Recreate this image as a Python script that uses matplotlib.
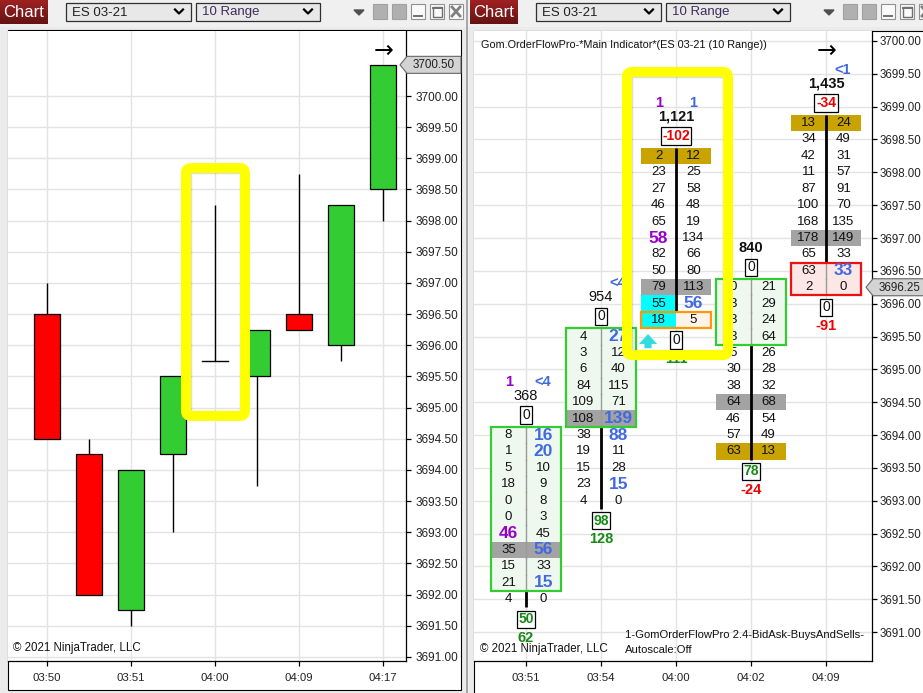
import matplotlib
matplotlib.use("Agg")
import matplotlib.pyplot as plt
from matplotlib.patches import Rectangle, FancyBboxPatch, Polygon
import numpy as np

plt.rcParams['font.family'] = ['Liberation Sans', 'DejaVu Sans']

# ---------------- data ----------------
symbol = "ES 03-21"
period = "10 Range"

candle_open  = [3696.50, 3694.25, 3691.75, 3694.25, 3695.75, 3695.50, 3696.50, 3696.00, 3698.50]
candle_high  = [3697.00, 3694.50, 3694.00, 3695.50, 3698.25, 3696.25, 3698.75, 3698.25, 3700.50]
candle_low   = [3694.50, 3692.00, 3691.50, 3693.00, 3695.75, 3693.75, 3696.25, 3695.75, 3698.00]
candle_close = [3694.50, 3692.00, 3694.00, 3695.50, 3695.75, 3696.25, 3696.25, 3698.25, 3700.50]
left_tick_labels = ["03:50", "03:51", "04:00", "04:09", "04:17"]

fp_times = ["03:51", "03:54", "04:00", "04:02", "04:09"]
fp_high = [3694.00, 3695.50, 3698.25, 3696.25, 3698.75]
fp_bid = [[8, 1, 5, 18, 0, 0, 46, 35, 15, 21, 4],
          [4, 3, 6, 84, 109, 108, 38, 19, 15, 23, 4],
          [2, 23, 27, 46, 65, 58, 82, 50, 79, 55, 18],
          [0, 3, 3, 3, 5, 30, 38, 64, 46, 57, 63],
          [13, 34, 42, 11, 87, 100, 168, 178, 65, 63, 2]]
fp_ask = [[16, 20, 10, 9, 8, 3, 45, 56, 33, 15, 0],
          [27, 12, 40, 115, 71, 139, 88, 11, 28, 15, 0],
          [12, 25, 58, 48, 19, 134, 66, 80, 113, 56, 5],
          [21, 29, 24, 64, 26, 28, 32, 68, 54, 49, 13],
          [24, 49, 31, 57, 91, 70, 135, 149, 33, 33, 0]]
fp_volume = ["368", "954", "1,121", "840", "1,435"]
fp_volume_bold = [False, False, True, True, True]
fp_sell_count = ["1", "", "1", "", ""]
fp_buy_count = ["<4", "<4", "1", "", "<1"]
fp_top_box = ["0", "0", "-102", "0", "-34"]
fp_bottom_box = ["50", "98", "0", "78", "0"]
fp_delta = ["62", "128", "111", "-24", "-91"]
fp_poc_row = [7, 5, 8, 7, 7]
fp_gold_rows = [[], [], [0], [10], [0]]
fp_green_box = [(0, 9), (0, 5), None, (0, 3), None]
fp_red_box = [None, None, None, None, (9, 10)]
fp_orange_box = [None, None, (10, 10), None, None]
fp_cyan_bid_rows = [[], [], [9, 10], [], []]
fp_bold_ask = [[0, 1, 7, 9], [0, 5, 6, 9], [9], [], [9]]
fp_bold_bid = [[6], [], [5], [], []]
fp_arrow = [False, False, True, False, False]

TICK = 0.25

# ---------------- figure ----------------
W, H = 923, 693
fig = plt.figure(figsize=(W / 100, H / 100), dpi=100)

bg = fig.add_axes([0, 0, 1, 1], zorder=0)
bg.set_xlim(0, W); bg.set_ylim(H, 0); bg.axis('off')
bg.add_patch(Rectangle((0, 0), W, H, color='#ebebeb'))
bg.add_patch(Rectangle((0, 0), W, 26, color='#f0f0f0'))
bg.plot([466.5, 466.5], [0, H], color='#9a9a9a', lw=1.2)
bg.add_patch(Rectangle((8, 30), 453, 660, facecolor='white', edgecolor='black', lw=0.8))
bg.add_patch(Rectangle((474, 31), 470, 680, facecolor='white', edgecolor='black', lw=0.8))


def header(x0):
    # Chart tab
    for k in range(24):
        t = k / 23
        c = (0.62 - 0.22 * t, 0.13 - 0.06 * t, 0.13 - 0.06 * t)
        bg.add_patch(Rectangle((x0, k), 48, 1.05, color=c, lw=0))
    bg.text(x0 + 24, 12.5, "Chart", color='white', fontsize=12, ha='center', va='center')
    # dropdowns
    for (a, b, txt, tc) in [(x0 + 66, x0 + 191, symbol, '#202020'),
                            (x0 + 196, x0 + 320, period, '#3b2e5a')]:
        bg.add_patch(Rectangle((a, 2.5), b - a, 18.5, facecolor='#e8e8e8', edgecolor='#303030', lw=0.9))
        bg.text(a + 6, 12.5, txt, fontsize=9.5, color=tc, va='center', ha='left')
        bg.plot([b - 16, b - 12, b - 8], [9.5, 13.5, 9.5], color='black', lw=1.6)
    # window controls
    bg.add_patch(Polygon([[x0 + 354, 10], [x0 + 364, 10], [x0 + 359, 15]], color='#505050'))
    xs = [x0 + 373, x0 + 392, x0 + 411, x0 + 430, x0 + 449]
    for k, xx in enumerate(xs):
        if k < 2:
            bg.add_patch(Rectangle((xx, 4), 14, 15, facecolor='#b0b0b0', edgecolor='#a0a0a0', lw=0.8))
        else:
            bg.add_patch(Rectangle((xx, 4), 14, 15, facecolor='#fafafa', edgecolor='#909090', lw=0.8))
    bg.plot([xs[2] + 3, xs[2] + 11], [15.5, 15.5], color='#707070', lw=1.4)
    bg.add_patch(Rectangle((xs[3] + 2.5, 6.5), 9, 10, facecolor='none', edgecolor='#707070', lw=1.0))
    bg.plot([xs[3] + 2.5, xs[3] + 11.5], [8, 8], color='#707070', lw=1.4)
    bg.plot([xs[4] + 3, xs[4] + 11], [7, 16], color='#808080', lw=2)
    bg.plot([xs[4] + 3, xs[4] + 11], [16, 7], color='#808080', lw=2)


header(0)
header(470)

# ---------------- left candlestick axes ----------------
ax1 = fig.add_axes([8 / W, (H - 661) / H, 398 / W, 630 / H], zorder=1)
ax1.set_xlim(-0.929, 8.548)
ax1.set_ylim(3690.935, 3701.043)

n = len(candle_open)
for i in range(n):
    o, h, l, c = candle_open[i], candle_high[i], candle_low[i], candle_close[i]
    ax1.plot([i, i], [l, h], color='black', lw=1.0, zorder=3, solid_capstyle='butt')
    if o == c:
        ax1.plot([i - 0.31, i + 0.31], [o, o], color='black', lw=1.0, zorder=4)
    else:
        col = '#33cc33' if c > o else '#ff0000'
        ax1.add_patch(Rectangle((i - 0.31, min(o, c)), 0.62, abs(c - o),
                                facecolor=col, edgecolor='black', lw=0.9, zorder=4))

# ---------------- right footprint axes ----------------
ax2 = fig.add_axes([474 / W, (H - 661) / H, 398 / W, 630 / H], zorder=1)
ax2.set_xlim(-0.693, 4.613)
ax2.set_ylim(3690.559, 3700.152)

hw = 0.467
off = 0.233
GOLD = '#c9a300'
POC = '#a3a3a3'
BLUE = '#4169e1'
PURPLE = '#9a00cc'
GREEN_T = '#168a16'
RED_T = '#ee0000'


def in_range(rng, r):
    return rng is not None and rng[0] <= r <= rng[1]


for j in range(len(fp_times)):
    hi = fp_high[j]
    rows = len(fp_bid[j])
    lo = hi - TICK * (rows - 1)
    ax2.plot([j, j], [lo - TICK / 2, hi + TICK / 2], color='black', lw=2, zorder=3, solid_capstyle='butt')
    for r in range(rows):
        p = hi - TICK * r
        boxed = in_range(fp_green_box[j], r) or in_range(fp_red_box[j], r) or in_range(fp_orange_box[j], r)
        base = None
        if in_range(fp_green_box[j], r):
            base = '#eef8ee'
        if in_range(fp_red_box[j], r):
            base = '#fde6e6'
        bid_c, ask_c = base, base
        if in_range(fp_orange_box[j], r):
            ask_c = '#fdf3e8'
        if r == fp_poc_row[j]:
            bid_c = ask_c = POC
        if r in fp_gold_rows[j]:
            bid_c = ask_c = GOLD
        if r in fp_cyan_bid_rows[j]:
            bid_c = '#00ffff'
        z = 4 if boxed else 2
        for cx, cc in [(j - hw, bid_c), (j, ask_c)]:
            if cc is not None:
                ax2.add_patch(Rectangle((cx, p - TICK / 2), hw, TICK, facecolor=cc, lw=0, zorder=z))
        if boxed and not in_range(fp_orange_box[j], r):
            ax2.plot([j, j], [p - TICK / 2, p + TICK / 2], color='#9a9a9a', lw=1, zorder=5)
        # texts
        bb = r in fp_bold_bid[j]
        ba = r in fp_bold_ask[j]
        ax2.text(j - off, p, str(fp_bid[j][r]), ha='center', va='center', zorder=7,
                 fontsize=12.5 if bb else 9.5, fontweight='bold' if bb else 'normal',
                 color=PURPLE if bb else '#111111')
        ax2.text(j + off, p, str(fp_ask[j][r]), ha='center', va='center', zorder=7,
                 fontsize=12.5 if ba else 9.5, fontweight='bold' if ba else 'normal',
                 color=BLUE if ba else '#111111')
    # boxes
    for rng, ec in [(fp_green_box[j], '#33cc33'), (fp_red_box[j], '#ee1111'), (fp_orange_box[j], '#ff9900')]:
        if rng is not None:
            top_ = hi - TICK * rng[0] + TICK / 2
            bot = hi - TICK * rng[1] - TICK / 2
            ax2.add_patch(Rectangle((j - hw, bot), 2 * hw, top_ - bot, facecolor='none',
                                    edgecolor=ec, lw=1.6, zorder=6))
    # above
    ax2.text(j, hi + 0.60, fp_volume[j], ha='center', va='center', fontsize=10.5,
             fontweight='bold' if fp_volume_bold[j] else 'normal', color='#111111', zorder=7)
    tb = fp_top_box[j]
    tcol = RED_T if tb.startswith('-') else ('#111111' if tb == '0' else GREEN_T)
    ax2.text(j, hi + 0.305, tb, ha='center', va='center', fontsize=10, color=tcol,
             fontweight='normal' if tb == '0' else 'bold', zorder=7,
             bbox=dict(boxstyle='square,pad=0.12', facecolor='white', edgecolor='black', lw=0.9))
    if fp_sell_count[j]:
        ax2.text(j - 0.227, hi + 0.81, fp_sell_count[j], ha='center', va='center', fontsize=10.5,
                 fontweight='bold', color=PURPLE, zorder=7)
    if fp_buy_count[j]:
        ax2.text(j + 0.227, hi + 0.81, fp_buy_count[j], ha='center', va='center', fontsize=10.5,
                 fontweight='bold', color=BLUE, zorder=7)
    # below
    bbx = fp_bottom_box[j]
    bcol = RED_T if bbx.startswith('-') else ('#111111' if bbx == '0' else GREEN_T)
    ax2.text(j, lo - 0.305, bbx, ha='center', va='center', fontsize=10, color=bcol,
             fontweight='normal' if bbx == '0' else 'bold', zorder=7,
             bbox=dict(boxstyle='square,pad=0.12', facecolor='white', edgecolor='black', lw=0.9))
    d = fp_delta[j]
    ax2.text(j, lo - 0.59, d, ha='center', va='center', fontsize=10.5, fontweight='bold',
             color=RED_T if d.startswith('-') else GREEN_T, zorder=7)
    if fp_arrow[j]:
        ax2.annotate('', xy=(j - 0.373, lo - 0.17), xytext=(j - 0.373, lo - 0.47),
                     arrowprops=dict(arrowstyle='simple,head_length=0.55,head_width=1.0,tail_width=0.4',
                                     color='#33dddd', lw=0, mutation_scale=13), zorder=7)

# ---------------- axes styling ----------------
price_ticks = np.arange(3691.0, 3700.01, 0.5)
for ax, xt, xl, ypad, ysize in [(ax1, list(range(0, n, 2)), left_tick_labels, 3.0, 8.5),
                                (ax2, list(range(len(fp_times))), fp_times, 1.6, 8.3)]:
    ax.set_facecolor('white')
    ax.set_axisbelow(True)
    ax.spines['top'].set_visible(False)
    ax.spines['left'].set_visible(False)
    ax.spines['right'].set_color('black')
    ax.spines['bottom'].set_color('black')
    ax.spines['right'].set_linewidth(0.9)
    ax.spines['bottom'].set_linewidth(0.9)
    ax.yaxis.tick_right()
    ax.set_yticks(price_ticks)
    ax.set_yticklabels([f"{v:.2f}" for v in price_ticks])
    ax.set_xticks(xt)
    ax.set_xticklabels(xl)
    ax.tick_params(axis='y', direction='out', length=3.6, width=0.9, pad=ypad, labelsize=ysize,
                   labelcolor='#222222')
    ax.tick_params(axis='x', direction='out', length=3.6, width=0.9, pad=5.0, labelsize=8.2,
                   labelcolor='#222222')
    ax.grid(True, color='#e3e3e3', lw=1)

# ---------------- overlay ----------------
top = fig.add_axes([0, 0, 1, 1], zorder=10)
top.set_xlim(0, W); top.set_ylim(H, 0); top.axis('off')
top.patch.set_alpha(0)


def to_px(ax, x, y):
    X, Y = ax.transData.transform((x, y))
    return X, H - Y


def highlight(x0, y0, x1, y1):
    for inset, a, lw in [(7.0, 0.22, 2.0), (8.6, 0.10, 2.0), (10.0, 0.04, 2.0)]:
        top.add_patch(Rectangle((x0 + inset - 5, y0 + inset - 5), (x1 - x0) - 2 * (inset - 5),
                                (y1 - y0) - 2 * (inset - 5),
                                facecolor='none', edgecolor=(0, 0, 0, a), lw=lw))
    top.add_patch(FancyBboxPatch((x0, y0), x1 - x0, y1 - y0, boxstyle='round,pad=0,rounding_size=5',
                                 facecolor='none', edgecolor='#ffff00', lw=7.2))


# left highlight around doji bar
bx, by_hi = to_px(ax1, 4, candle_high[4])
_, by_lo = to_px(ax1, 4, candle_low[4])
highlight(bx - 29, by_hi - 37, bx + 30, by_lo + 55)

# right highlight around footprint column 3
cx, cy_hi = to_px(ax2, 2, fp_high[2])
_, cy_lo = to_px(ax2, 2, fp_high[2] - TICK * (len(fp_bid[2]) - 1))
highlight(cx - 49, cy_hi - 84, cx + 52, cy_lo + 35)


# last price markers
def price_marker(ax, price):
    ax_x = ax.transAxes.transform((1, 0))[0]
    _, py = to_px(ax, 0, price)
    pts = [[ax_x - 6, py], [ax_x + 1, py - 8.5], [ax_x + 55, py - 8.5], [ax_x + 55, py + 8.5], [ax_x + 1, py + 8.5]]
    top.add_patch(Polygon(pts, closed=True, facecolor='#d3d3d3', edgecolor='#666666', lw=0.8))
    top.text(ax_x + 28, py + 0.5, f"{price:.2f}", ha='center', va='center', fontsize=8.4, color='#222222')


price_marker(ax1, candle_close[-1])
price_marker(ax2, candle_close[6])

# arrows at last bar
for ax, xi in [(ax1, n - 1), (ax2, len(fp_times) - 1)]:
    px, _ = to_px(ax, xi, 3695)
    top.text(px + 1, 51, "\u2192", ha='center', va='center', fontsize=17, family='DejaVu Sans', color='black')

# texts
top.text(481, 44.5, "Gom.OrderFlowPro-*Main Indicator*(ES 03-21 (10 Range))", fontsize=7.8,
         ha='left', va='center', color='#111111')
top.text(13, 648, "\u00a9 2021 NinjaTrader, LLC", fontsize=8.3, ha='left', va='center', color='#111111')
top.text(480, 649, "\u00a9 2021 NinjaTrader, LLC", fontsize=8.3, ha='left', va='center', color='#111111')
top.text(625, 635, "1-GomOrderFlowPro 2.4-BidAsk-BuysAndSells-", fontsize=8.1, ha='left', va='center',
         color='#111111')
top.text(625, 650, "Autoscale:Off", fontsize=8.1, ha='left', va='center', color='#111111')

fig.savefig("out.png", dpi=100)
